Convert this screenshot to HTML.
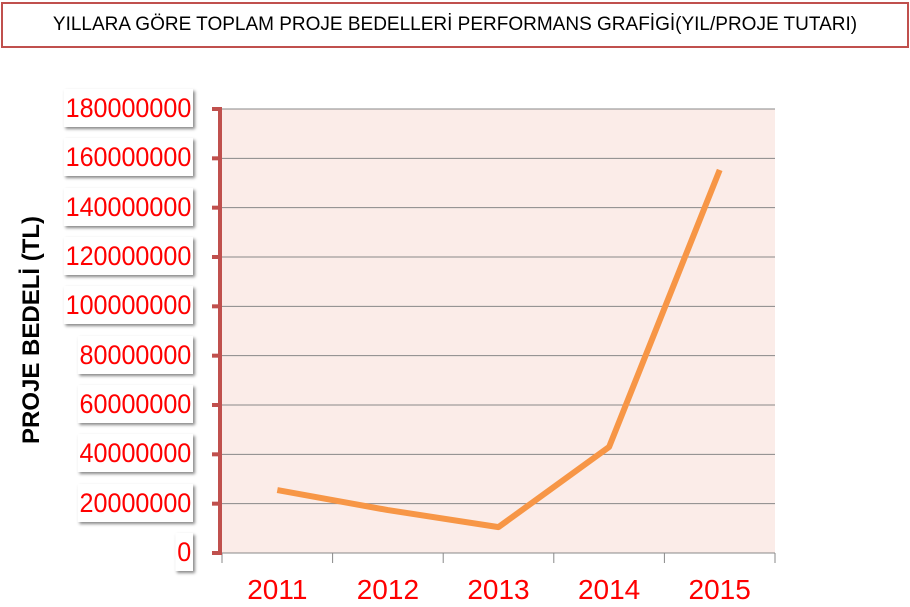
<!DOCTYPE html>
<html><head><meta charset="utf-8"><style>
body{margin:0;width:910px;height:607px;background:#fff;overflow:hidden;font-family:"Liberation Sans",sans-serif;position:relative}
#title{position:absolute;left:1px;top:2px;width:904px;height:42px;border:2px solid #c0504d;box-sizing:content-box;text-align:center;line-height:42px;font-size:19px;color:#000;white-space:nowrap}
.yl{position:absolute;right:717px;height:38px;line-height:38px;background:#fff;box-shadow:2px 2px 3px #888;color:#f00;font-size:27px;padding:0 2px;transform:scaleX(0.93);transform-origin:right center}
.xl{position:absolute;top:574px;width:110px;text-align:center;color:#f00;font-size:28px}
#ytitle{position:absolute;left:32px;top:330px;transform:translate(-50%,-50%) rotate(-90deg);font-weight:bold;font-size:24px;white-space:nowrap}
</style></head><body>
<div id="title">YILLARA GÖRE TOPLAM PROJE BEDELLERİ PERFORMANS GRAFİGİ(YIL/PROJE TUTARI)</div>
<div id="labels"></div>
<div id="ytitle">PROJE BEDELİ (TL)</div>
<svg id="chart" width="910" height="607" style="position:absolute;left:0;top:0;pointer-events:none"></svg>
<script>
const categories=["2011","2012","2013","2014","2015"];
const values=[25500000,17400000,10500000,43000000,155300000];
const yTicks=[0,20000000,40000000,60000000,80000000,100000000,120000000,140000000,160000000,180000000];
const X0=222,X1=775,Y0=553,Y1=109,YMAX=180000000;
const band=(X1-X0)/categories.length;
const xs=i=>X0+band*(i+0.5);
const ys=v=>Y0-(v/YMAX)*(Y0-Y1);
const NS="http://www.w3.org/2000/svg";
const svg=document.getElementById('chart');
function mk(t,a){const e=document.createElementNS(NS,t);for(const k in a)e.setAttribute(k,a[k]);svg.appendChild(e);return e;}
const bg=mk('rect',{x:X0,y:Y1,width:X1-X0,height:Y0-Y1,fill:'#fbece8'});


const lab=document.getElementById('labels');
yTicks.forEach(v=>{
  const y=ys(v);
  if(v>0){const g=mk('line',{x1:X0,x2:X1,y1:y,y2:y,stroke:'#888','stroke-width':1});
  
  }
  const t=mk('line',{x1:212,x2:X0,y1:y,y2:y,stroke:'#c0504d','stroke-width':4});
  
  
  const d=document.createElement('div');d.className='yl';d.textContent=String(v);d.style.top=(y-20)+'px';
  
  
  lab.appendChild(d);
});
const ax=mk('line',{x1:X0,x2:X1,y1:Y0,y2:Y0,stroke:'#888','stroke-width':1});


for(let i=0;i<=categories.length;i++){const x=X0+band*i;const t=mk('line',{x1:x,x2:x,y1:Y0,y2:Y0+10,stroke:'#888'});

}
const yax=mk('line',{x1:X0-2,x2:X0-2,y1:Y1-2,y2:Y0+2,stroke:'#c0504d','stroke-width':4});


categories.forEach((c,i)=>{const d=document.createElement('div');d.className='xl';d.textContent=c;d.style.left=(xs(i)-55)+'px';


lab.appendChild(d);});
const pl=mk('polyline',{points:values.map((v,i)=>xs(i)+','+ys(v)).join(' '),fill:'none',stroke:'#f79646','stroke-width':6,'stroke-linejoin':'round'});


</script>
</body></html>
